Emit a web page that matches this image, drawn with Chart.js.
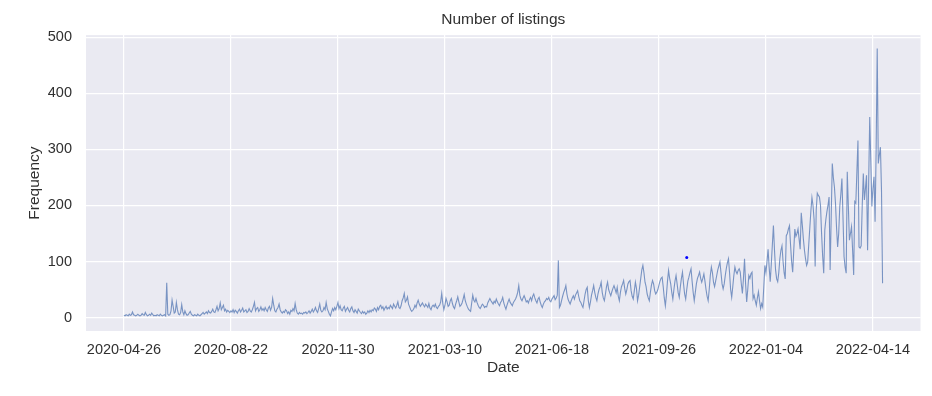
<!DOCTYPE html>
<html>
<head>
<meta charset="utf-8">
<script src="https://cdn.jsdelivr.net/npm/chart.js@4.4.1/dist/chart.umd.min.js"></script>
<style>
  html, body { margin: 0; padding: 0; background: #ffffff; }
  #wrap { width: 932px; height: 396px; }
</style>
</head>
<body>
<div id="wrap"><canvas id="c" width="932" height="396"></canvas></div>
<script>
// ---- data ----
const chartTitle = 'Number of listings';
const xAxisTitle = 'Date';
const yAxisTitle = 'Frequency';
const tickLabels = ['2020-04-26', '2020-08-22', '2020-11-30', '2021-03-10', '2021-06-18', '2021-09-26', '2022-01-04', '2022-04-14'];
const yTickValues = [0, 100, 200, 300, 400, 500];
const listingCounts = [
  4, 3, 5, 4, 3, 6, 4, 5, 10, 5,
  4, 3, 4, 6, 4, 3, 4, 7, 5, 4,
  9, 5, 3, 4, 6, 4, 8, 5, 3, 4,
  3, 5, 4, 3, 6, 4, 3, 4, 5, 3,
  62, 6, 4, 5, 12, 31, 20, 8, 10, 27,
  14, 6, 5, 9, 23, 10, 5, 12, 7, 4,
  5, 8, 11, 6, 4, 3, 5, 4, 3, 6,
  4, 3, 5, 7, 9, 6, 8, 10, 7, 12,
  9, 8, 11, 15, 10, 9, 14, 20, 12, 16,
  26, 14, 18, 22, 12, 15, 10, 13, 11, 9,
  12, 10, 14, 9, 13, 11, 8, 12, 15, 10,
  13, 17, 10, 12, 14, 9, 11, 16, 12, 10,
  14, 20, 27, 12, 16, 18, 11, 14, 19, 13,
  16, 12, 18, 14, 11, 17, 20, 13, 18, 34,
  22, 12, 10, 15, 18, 24, 14, 10, 8, 11,
  9, 14, 12, 7, 10, 6, 13, 11, 16, 12,
  25, 14, 8, 6, 9, 7, 8, 6, 9, 8,
  10, 7, 9, 12, 8, 11, 15, 10, 13, 18,
  12, 9, 16, 24, 13, 10, 12, 18, 14, 27,
  16, 11, 6, 3, 10, 16, 12, 18, 14, 20,
  27, 16, 21, 14, 12, 17, 20, 11, 15, 18,
  13, 10, 16, 19, 12, 9, 14, 11, 8, 15,
  12, 9, 7, 11, 8, 10, 6, 8, 12, 9,
  13, 10, 14, 12, 17, 15, 11, 18, 14, 20,
  22, 16, 19, 13, 17, 20, 15, 18, 16, 22,
  19, 16, 24, 20, 17, 22, 28, 18, 16, 21,
  30, 35, 43, 28, 31, 37, 24, 19, 14, 11,
  13, 16, 22, 18, 26, 31, 24, 20, 23, 26,
  22, 19, 24, 21, 18, 25, 17, 14, 20, 22,
  19, 24, 18, 16, 20, 22, 28, 43, 25, 14,
  22, 34, 28, 20, 22, 30, 34, 25, 19, 16,
  24, 30, 37, 28, 20, 22, 26, 33, 41, 30,
  24, 19, 15, 13, 11, 26, 40, 31, 28, 34,
  27, 22, 18, 16, 20, 24, 22, 18, 20, 19,
  26, 30, 34, 30, 27, 24, 29, 26, 33, 28,
  24, 21, 27, 30, 36, 26, 20, 15, 22, 28,
  33, 27, 24, 21, 27, 30, 33, 38, 45, 57,
  40, 33, 30, 35, 39, 34, 28, 30, 26, 32,
  36, 30, 38, 42, 35, 30, 26, 33, 36, 28,
  22, 18, 24, 28, 30, 34, 32, 36, 30, 28,
  33, 36, 39, 32, 35, 40, 102, 18, 22, 30,
  38, 45, 50, 57, 42, 33, 28, 24, 30, 35,
  39, 33, 40, 44, 48, 38, 30, 27, 22, 18,
  30, 42, 50, 54, 30, 18, 28, 40, 48, 57,
  45, 36, 30, 42, 50, 55, 63, 45, 35, 30,
  42, 55, 63, 50, 44, 39, 46, 52, 57, 51,
  44, 54, 38, 30, 45, 55, 60, 66, 52, 42,
  50, 60, 64, 66, 48, 38, 33, 48, 63, 52,
  30, 40, 55, 70, 85, 93, 80, 63, 55, 42,
  35, 30, 45, 58, 66, 60, 48, 42, 45, 50,
  58, 65, 70, 72, 55, 35, 21, 40, 65, 84,
  70, 60, 45, 33, 50, 65, 75, 60, 44, 36,
  55, 70, 81, 60, 42, 33, 50, 65, 72, 80,
  87, 65, 45, 30, 45, 60, 70, 75, 81, 70,
  63, 70, 78, 65, 50, 38, 30, 50, 75, 90,
  80, 63, 55, 65, 75, 85, 92, 99, 80, 60,
  51, 60, 75, 88, 98, 105, 80, 50, 36, 55,
  75, 90, 82, 78, 84, 87, 81, 60, 43, 70,
  105, 60, 28, 50, 75, 70, 78, 81, 34, 40,
  30, 22, 35, 46, 30, 16, 25, 19, 55, 93,
  80, 100, 122, 90, 64, 95, 130, 164, 120, 85,
  69, 64, 80, 105, 120, 128, 100, 80, 69, 146,
  150, 158, 164, 130, 100, 81, 120, 158, 145, 150,
  158, 140, 122, 187, 165, 140, 120, 105, 93, 99,
  130, 160, 190, 214, 200, 175, 91, 192, 222, 218,
  215, 200, 150, 110, 79, 156, 175, 189, 200, 215,
  85, 180, 275, 250, 233, 204, 160, 126, 150, 198,
  220, 248, 180, 109, 90, 79, 260, 200, 138, 150,
  162, 120, 76, 207, 204, 260, 316, 126, 124, 128,
  200, 257, 210, 230, 254, 120, 240, 358, 280, 198,
  230, 251, 171, 300, 480, 275, 290, 304, 227, 61
];
const markerX = [526];
const markerY = [107];

// ---- build chart ----
const n = listingCounts.length;
const xMargin = (n - 1) * 0.05;
const yMax = Math.max(...listingCounts);
const yMargin = yMax * 0.05;
const lineData = listingCounts.map((v, i) => ({ x: i, y: v }));
const markerData = markerX.map((x, i) => ({ x: x, y: markerY[i] }));

const textColor = '#303030';
const fontFamily = '"Liberation Sans", Arial, sans-serif';

const plotBg = {
  id: 'plotBg',
  beforeDraw(chart) {
    const { ctx, chartArea: a } = chart;
    ctx.save();
    ctx.fillStyle = '#ffffff';
    ctx.fillRect(0, 0, chart.width, chart.height);
    ctx.fillStyle = '#EAEAF2';
    ctx.fillRect(a.left, a.top, a.right - a.left, a.bottom - a.top);
    ctx.restore();
  }
};

new Chart(document.getElementById('c'), {
  type: 'line',
  data: {
    datasets: [
      {
        label: 'listings',
        data: lineData,
        borderColor: 'rgba(76,114,176,0.72)',
        borderWidth: 1.1,
        pointRadius: 0,
        tension: 0,
        fill: false
      },
      {
        type: 'scatter',
        label: 'marker',
        data: markerData,
        backgroundColor: '#0000ff',
        borderColor: '#0000ff',
        pointRadius: 1.5,
        borderWidth: 0
      }
    ]
  },
  options: {
    responsive: false,
    animation: false,
    devicePixelRatio: 1,
    layout: { padding: { left: 0, right: 11.5, top: 0, bottom: 0 } },
    plugins: {
      legend: { display: false },
      tooltip: { enabled: false },
      title: {
        display: true,
        text: chartTitle,
        fullSize: false,
        color: textColor,
        font: { family: fontFamily, size: 15.5, weight: 'normal' },
        padding: { top: 10.5, bottom: 6 }
      }
    },
    scales: {
      x: {
        type: 'linear',
        min: -xMargin,
        max: (n - 1) + xMargin,
        afterBuildTicks(scale) {
          scale.ticks = tickLabels.map((_, i) => ({ value: i * 100 }));
        },
        afterFit(scale) { scale.height = 65; },
        ticks: {
          autoSkip: false,
          maxRotation: 0,
          padding: 10,
          color: textColor,
          font: { family: fontFamily, size: 14.5 },
          callback: (v) => tickLabels[Math.round(v / 100)] ?? ''
        },
        grid: { color: '#ffffff', lineWidth: 1.2, drawTicks: false },
        border: { display: false },
        title: {
          display: true,
          text: xAxisTitle,
          color: textColor,
          font: { family: fontFamily, size: 15.5 },
          padding: { top: 0, bottom: 19 }
        }
      },
      y: {
        type: 'linear',
        min: -yMargin,
        max: yMax + yMargin,
        afterBuildTicks(scale) {
          scale.ticks = yTickValues.map(v => ({ value: v }));
        },
        afterFit(scale) { scale.width = 86; },
        ticks: {
          padding: 14,
          color: textColor,
          font: { family: fontFamily, size: 14.5 }
        },
        grid: { color: '#ffffff', lineWidth: 1.2, drawTicks: false },
        border: { display: false },
        title: {
          display: true,
          text: yAxisTitle,
          color: textColor,
          font: { family: fontFamily, size: 15.5 },
          padding: { top: 25, bottom: 0 }
        }
      }
    }
  },
  plugins: [plotBg]
});
</script>
</body>
</html>
